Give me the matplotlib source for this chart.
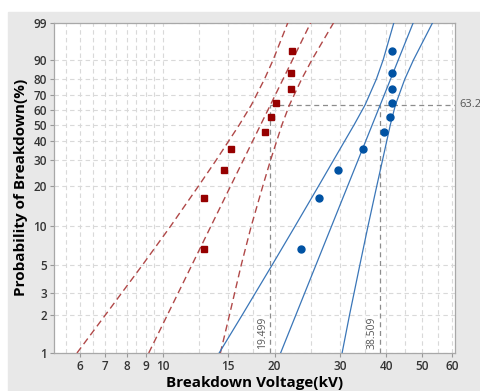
import numpy as np
import matplotlib
matplotlib.use('Agg')
import matplotlib.pyplot as plt
from matplotlib.patches import Rectangle
from matplotlib.ticker import NullLocator

# median ranks of the 10 samples (%)
prob = [6.7, 16.3, 25.9, 35.6, 45.2, 54.8, 64.4, 74.0, 83.7, 93.3]
red_kv = [12.9, 12.9, 14.6, 15.3, 18.8, 19.6, 20.2, 22.2, 22.2, 22.3]
blue_kv = [23.5, 26.4, 29.7, 34.5, 39.5, 40.9, 41.3, 41.3, 41.3, 41.5]

# weibull fits (scale printed on the chart, shape read from slope)
red_eta, red_shape = 19.499, 6.1
blue_eta, blue_shape = 38.509, 7.45

# confidence bounds
ci_prob = [1, 2, 5, 10, 20, 30, 50, 63.2, 80, 90, 99]
red_lo = [5.88, 7.00, 8.82, 10.50, 12.50, 13.91, 16.09, 17.33, 18.79, 19.83, 21.73]
red_hi = [14.30, 15.12, 16.27, 17.31, 18.61, 19.50, 20.95, 21.94, 23.65, 25.21, 28.87]
blue_lo = [14.19, 16.35, 19.70, 22.71, 26.30, 28.80, 32.77, 35.06, 37.59, 39.21, 41.92]
blue_hi = [30.40, 31.82, 33.93, 35.69, 37.70, 39.04, 41.00, 42.31, 44.83, 47.32, 53.30]

xticks = [6, 7, 8, 9, 10, 15, 20, 30, 40, 50, 60]
yticks = [1, 2, 3, 5, 10, 20, 30, 40, 50, 60, 70, 80, 90, 99]
xgrid = [5.5, 6, 6.5, 7, 7.5, 8, 8.5, 9, 9.5, 10, 12.5, 15, 17.5, 20,
         25, 30, 35, 40, 45, 50, 55, 60]


def fwd(p):
    p = np.clip(np.asarray(p, dtype=float), 1e-6, 100 - 1e-6)
    return np.log(-np.log(1 - p / 100))


def inv(y):
    return 100 * (1 - np.exp(-np.exp(y)))


plt.rcParams['font.family'] = ['Open Sans', 'DejaVu Sans']

fig = plt.figure(figsize=(4.8, 3.91), dpi=100)
fig.patch.set_facecolor('white')
fig.patches.append(Rectangle((8 / 480, 0), 1, (391 - 12) / 391,
                             transform=fig.transFigure, color='#e8e8e8', zorder=-10))

ax = fig.add_axes([54 / 480, 38 / 391, 401 / 480, 330.5 / 391])
ax.set_facecolor('white')
ax.set_xscale('log')
ax.set_yscale('function', functions=(fwd, inv))
ax.set_xlim(5.1, 61.2)
ax.set_ylim(1, 99)

for g in xgrid:
    ax.axvline(g, color='#d9d9d9', lw=0.8, ls=(0, (4, 3)), zorder=1)
for g in yticks:
    ax.axhline(g, color='#d9d9d9', lw=0.8, ls=(0, (4, 3)), zorder=1)

# reference lines at 63.2 %
ax.plot([red_eta, 61.2], [63.2, 63.2], color='#8c8c8c', lw=0.9, ls=(0, (4, 3)), zorder=2)
for eta in (red_eta, blue_eta):
    ax.plot([eta, eta], [1, 63.2], color='#8c8c8c', lw=0.9, ls=(0, (4, 3)), zorder=2)
    ax.annotate(f'{eta:.3f}', xy=(eta, 1), xytext=(-2, 3), textcoords='offset points',
                rotation=90, ha='right', va='bottom', fontsize=7.5, color='#555555')
ax.annotate('63.2', xy=(1, 63.2), xycoords=('axes fraction', 'data'),
            xytext=(3, 0), textcoords='offset points',
            fontsize=8, color='#555555', va='center', ha='left')

# fitted lines and bounds
ends = np.array([1, 99])
red_fit = red_eta * (-np.log(1 - ends / 100)) ** (1 / red_shape)
blue_fit = blue_eta * (-np.log(1 - ends / 100)) ** (1 / blue_shape)

rc = '#b04848'
bc = '#3a76b8'
ax.plot(red_fit, ends, color=rc, lw=1.0, ls=(0, (5, 3)), zorder=3)
ax.plot(red_lo, ci_prob, color=rc, lw=1.0, ls=(0, (5, 3)), zorder=3)
ax.plot(red_hi, ci_prob, color=rc, lw=1.0, ls=(0, (5, 3)), zorder=3)
ax.plot(blue_fit, ends, color=bc, lw=0.9, zorder=3)
ax.plot(blue_lo, ci_prob, color=bc, lw=0.9, zorder=3)
ax.plot(blue_hi, ci_prob, color=bc, lw=0.9, zorder=3)

ax.plot(red_kv, prob, 's', color='#960000', ms=5, zorder=4)
ax.plot(blue_kv, prob, 'o', color='#0052a3', ms=5, zorder=4)

ax.set_xticks(xticks)
ax.set_xticklabels([str(t) for t in xticks])
ax.set_yticks(yticks)
ax.set_yticklabels([str(t) for t in yticks])
ax.xaxis.set_minor_locator(NullLocator())
ax.yaxis.set_minor_locator(NullLocator())
ax.tick_params(length=3, width=0.8, color='#999999', labelsize=8.5,
               labelcolor='#333333', pad=2)
for lab in ax.get_xticklabels() + ax.get_yticklabels():
    lab.set_fontweight('semibold')
for s in ax.spines.values():
    s.set_color('#a8a8a8')
    s.set_linewidth(0.9)

ax.set_xlabel('Breakdown Voltage(kV)', fontsize=11, fontweight='bold', labelpad=2)
ax.set_ylabel('Probability of Breakdown(%)', fontsize=11, fontweight='bold', labelpad=4)

fig.savefig('out.png', dpi=100, facecolor=fig.get_facecolor())
